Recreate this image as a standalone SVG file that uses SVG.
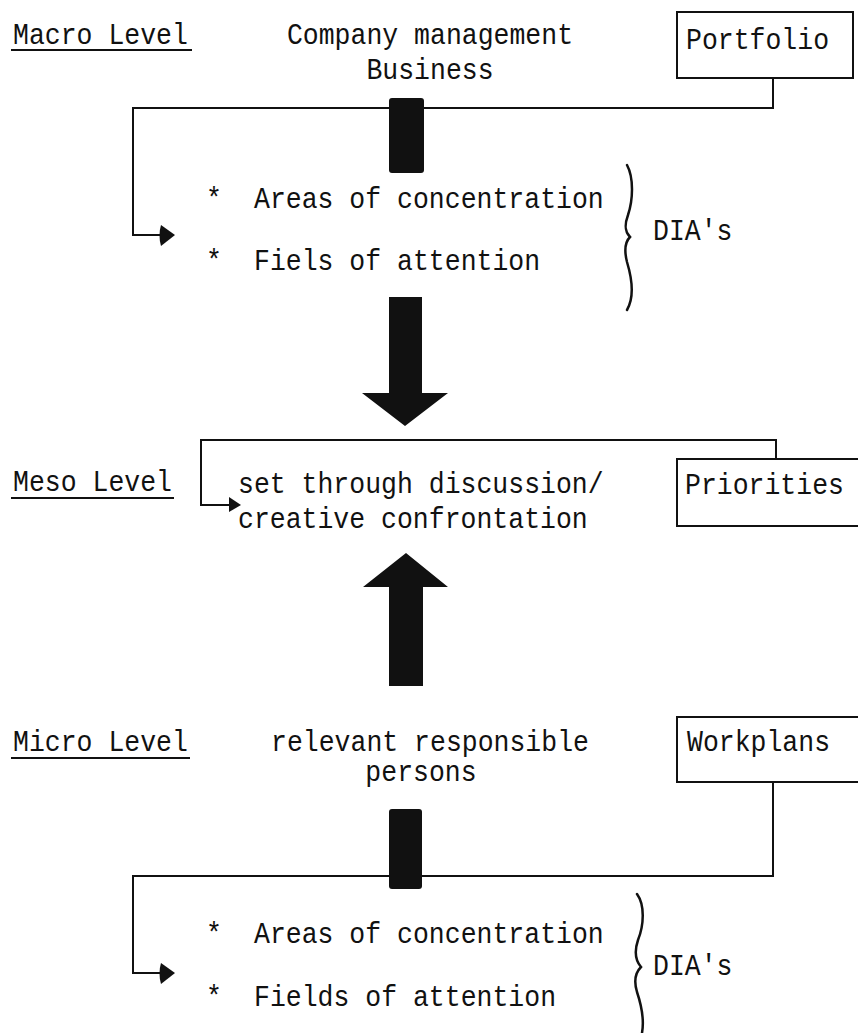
<svg xmlns="http://www.w3.org/2000/svg" width="858" height="1033" viewBox="0 0 858 1033">
<style>
text{font-family:"Liberation Mono","DejaVu Sans Mono",monospace;font-size:26.5px;fill:#111;transform-box:fill-box;transform-origin:center;transform:scale(1,1.12)}
.c{text-anchor:middle}
.ln{fill:none;stroke:#111;stroke-width:2}
.br{fill:none;stroke:#111;stroke-width:2.5;stroke-linecap:round}
.fill{fill:#111;stroke:none}
</style>
<rect width="858" height="1033" fill="#fff"/>
<g id="labels">
<text x="13" y="43">Macro Level</text>
<line class="ln" x1="11" y1="50" x2="192" y2="50"/>
<text x="13" y="490">Meso Level</text>
<line class="ln" x1="11" y1="498" x2="174" y2="498"/>
<text x="13" y="750">Micro Level</text>
<line class="ln" x1="11" y1="758" x2="190" y2="758"/>
</g>
<g id="company">
<text class="c" x="430" y="43">Company management</text>
<text class="c" x="430" y="78">Business</text>
</g>
<g id="portfolio">
<rect class="ln" x="677" y="12" width="176" height="66"/>
<text x="686" y="48">Portfolio</text>
</g>
<g id="macro-dia">
<text x="206" y="207">*</text>
<text x="254" y="207">Areas of concentration</text>
<text x="206" y="269">*</text>
<text x="254" y="269">Fiels of attention</text>
<path class="br" d="M627,165 C634,178 633,200 628,215 C624,226 625,232 630,237 C625,242 624,250 627,262 C633,282 634,298 627,310"/>
<text x="653" y="239">DIA's</text>
</g>
<g id="meso">
<text x="238" y="492">set through discussion/</text>
<text x="238" y="527">creative confrontation</text>
</g>
<g id="priorities">
<path class="ln" d="M858,459 H677 V526 H858"/>
<text x="685" y="493">Priorities</text>
</g>
<g id="persons">
<text class="c" x="430" y="750">relevant responsible</text>
<text class="c" x="421" y="780">persons</text>
</g>
<g id="workplans">
<path class="ln" d="M858,717 H677 V782 H858"/>
<text x="687" y="750">Workplans</text>
</g>
<g id="micro-dia">
<text x="206" y="942">*</text>
<text x="254" y="942">Areas of concentration</text>
<text x="206" y="1005">*</text>
<text x="254" y="1005">Fields of attention</text>
<path class="br" d="M637,894 C645,905 644,925 638,940 C634,952 635,960 641,967 C635,973 634,982 637,992 C643,1010 644,1022 642,1033"/>
<text x="653" y="974">DIA's</text>
</g>
<g id="connectors">
<polyline class="ln" points="773,78 773,108 133,108 133,235 163,235"/>
<path class="fill" d="M161,225 L175,235 L161,246 Q158,235 161,225 Z"/>
<rect class="fill" x="389" y="98" width="35" height="75" rx="3"/>
<polygon class="fill" points="389,297 422,297 422,393 448,393 405,426 362,393 389,393"/>
<polyline class="ln" points="776,459 776,440 201,440 201,505 231,505"/>
<polygon class="fill" points="229,497 241,505 229,512"/>
<polygon class="fill" points="406,553 448,587 423,587 423,686 389,686 389,587 363,587"/>
<polyline class="ln" points="773,782 773,876 133,876 133,973 163,973"/>
<path class="fill" d="M161,963 L175,973 L161,984 Q158,973 161,963 Z"/>
<rect class="fill" x="389" y="809" width="33" height="80" rx="3"/>
</g>
</svg>
